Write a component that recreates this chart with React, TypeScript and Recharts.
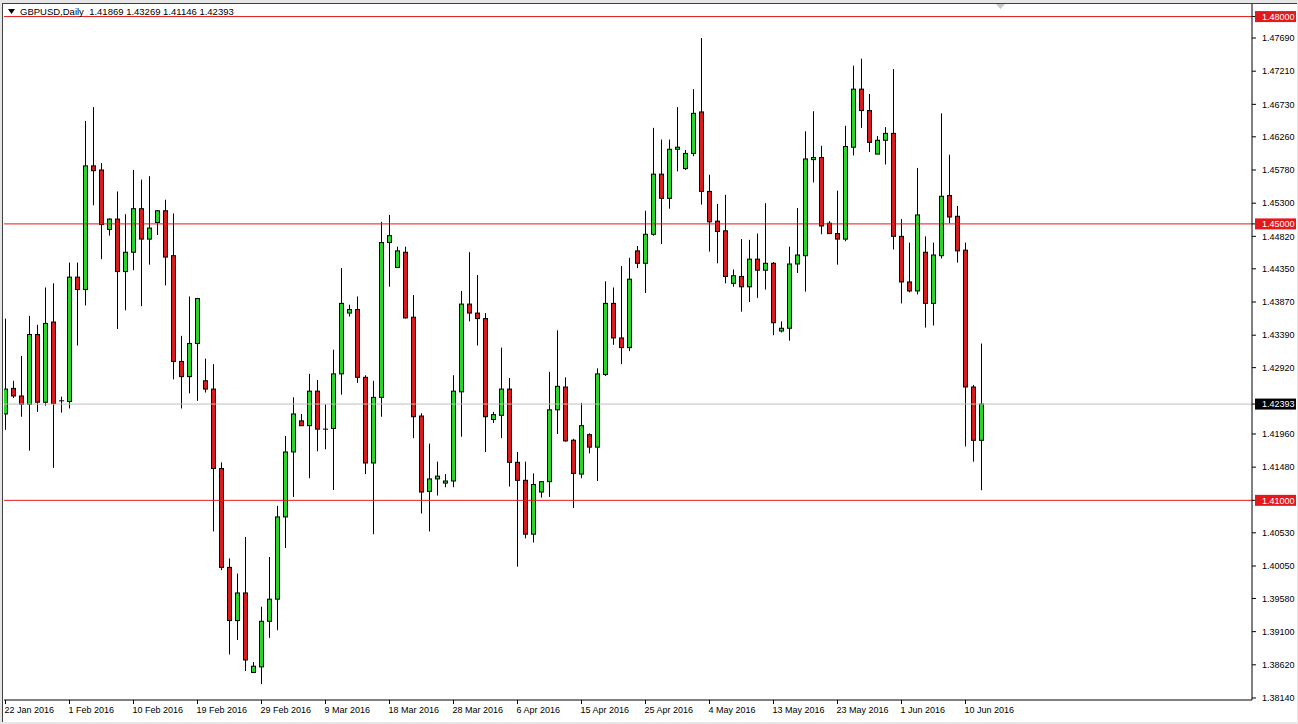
import { ComposedChart, Bar, XAxis, YAxis, ReferenceLine } from 'recharts'

// GBPUSD daily bars (broker feed includes short Sunday sessions)
const dates = [
  '22 Jan 2016', '24 Jan 2016', '25 Jan 2016', '26 Jan 2016', '27 Jan 2016', '28 Jan 2016', '29 Jan 2016',
  '31 Jan 2016', '1 Feb 2016', '2 Feb 2016', '3 Feb 2016', '4 Feb 2016', '5 Feb 2016',
  '7 Feb 2016', '8 Feb 2016', '9 Feb 2016', '10 Feb 2016', '11 Feb 2016', '12 Feb 2016',
  '14 Feb 2016', '15 Feb 2016', '16 Feb 2016', '17 Feb 2016', '18 Feb 2016', '19 Feb 2016',
  '21 Feb 2016', '22 Feb 2016', '23 Feb 2016', '24 Feb 2016', '25 Feb 2016', '26 Feb 2016',
  '28 Feb 2016', '29 Feb 2016', '1 Mar 2016', '2 Mar 2016', '3 Mar 2016', '4 Mar 2016',
  '6 Mar 2016', '7 Mar 2016', '8 Mar 2016', '9 Mar 2016', '10 Mar 2016', '11 Mar 2016',
  '13 Mar 2016', '14 Mar 2016', '15 Mar 2016', '16 Mar 2016', '17 Mar 2016', '18 Mar 2016',
  '20 Mar 2016', '21 Mar 2016', '22 Mar 2016', '23 Mar 2016', '24 Mar 2016', '25 Mar 2016',
  '27 Mar 2016', '28 Mar 2016', '29 Mar 2016', '30 Mar 2016', '31 Mar 2016', '1 Apr 2016',
  '3 Apr 2016', '4 Apr 2016', '5 Apr 2016', '6 Apr 2016', '7 Apr 2016', '8 Apr 2016',
  '10 Apr 2016', '11 Apr 2016', '12 Apr 2016', '13 Apr 2016', '14 Apr 2016', '15 Apr 2016',
  '17 Apr 2016', '18 Apr 2016', '19 Apr 2016', '20 Apr 2016', '21 Apr 2016', '22 Apr 2016',
  '24 Apr 2016', '25 Apr 2016', '26 Apr 2016', '27 Apr 2016', '28 Apr 2016', '29 Apr 2016',
  '1 May 2016', '2 May 2016', '3 May 2016', '4 May 2016', '5 May 2016', '6 May 2016',
  '8 May 2016', '9 May 2016', '10 May 2016', '11 May 2016', '12 May 2016', '13 May 2016',
  '15 May 2016', '16 May 2016', '17 May 2016', '18 May 2016', '19 May 2016', '20 May 2016',
  '22 May 2016', '23 May 2016', '24 May 2016', '25 May 2016', '26 May 2016', '27 May 2016',
  '29 May 2016', '30 May 2016', '31 May 2016', '1 Jun 2016', '2 Jun 2016', '3 Jun 2016',
  '5 Jun 2016', '6 Jun 2016', '7 Jun 2016', '8 Jun 2016', '9 Jun 2016', '10 Jun 2016',
  '12 Jun 2016', '13 Jun 2016',
]

const opens = [
  1.4225, 1.4262, 1.4251, 1.4239, 1.4340, 1.4242, 1.4358, 1.4244, 1.4243, 1.4423,
  1.4405, 1.4584, 1.4578, 1.4492, 1.4507, 1.4431, 1.4459, 1.4522, 1.4478, 1.4502,
  1.4519, 1.4454, 1.4301, 1.4279, 1.4327, 1.4273, 1.4261, 1.4146, 1.4003, 1.3926,
  1.3966, 1.3851, 1.3859, 1.3925, 1.3957, 1.4076, 1.4170, 1.4215, 1.4208, 1.4258,
  1.4203, 1.4204, 1.4283, 1.4371, 1.4376, 1.4278, 1.4154, 1.4249, 1.4473, 1.4437,
  1.4459, 1.4365, 1.4222, 1.4113, 1.4131, 1.4125, 1.4128, 1.4257, 1.4384, 1.4371,
  1.4363, 1.4217, 1.4223, 1.4261, 1.4155, 1.4129, 1.4051, 1.4112, 1.4127, 1.4231,
  1.4264, 1.4187, 1.4138, 1.4195, 1.4177, 1.4282, 1.4385, 1.4335, 1.4321, 1.4461,
  1.4443, 1.4485, 1.4572, 1.4537, 1.4608, 1.4580, 1.4602, 1.4662, 1.4547, 1.4504,
  1.4490, 1.4414, 1.4424, 1.4409, 1.4449, 1.4433, 1.4443, 1.4345, 1.4349, 1.4442,
  1.4454, 1.4593, 1.4596, 1.4501, 1.4486, 1.4478, 1.4611, 1.4695, 1.4664, 1.4601,
  1.4621, 1.4631, 1.4482, 1.4416, 1.4403, 1.4459, 1.4385, 1.4454, 1.4541, 1.4511,
  1.4462, 1.4264, 1.41869,
]

const highs = [
  1.4363, 1.4273, 1.4309, 1.4367, 1.4354, 1.4408, 1.4414, 1.4250, 1.4444, 1.4444,
  1.4649, 1.4669, 1.4588, 1.4508, 1.4547, 1.4514, 1.4578, 1.4564, 1.4569, 1.4520,
  1.4535, 1.4515, 1.4338, 1.4395, 1.4393, 1.4305, 1.4297, 1.4155, 1.4016, 1.3994,
  1.4047, 1.3866, 1.3946, 1.4018, 1.4092, 1.4193, 1.4249, 1.4225, 1.4283, 1.4274,
  1.4239, 1.4318, 1.4436, 1.4383, 1.4395, 1.4281, 1.4273, 1.4503, 1.4513, 1.4467,
  1.4467, 1.4397, 1.4226, 1.4182, 1.4156, 1.4138, 1.4281, 1.4403, 1.4459, 1.4426,
  1.4371, 1.4228, 1.4321, 1.4277, 1.4170, 1.4156, 1.4139, 1.4127, 1.4286, 1.4346,
  1.4278, 1.4189, 1.4241, 1.4197, 1.4291, 1.4417, 1.4408, 1.4439, 1.4451, 1.4468,
  1.4519, 1.4639, 1.4622, 1.4622, 1.4669, 1.4607, 1.4695, 1.4769, 1.4571, 1.4529,
  1.4542, 1.4434, 1.4478, 1.4477, 1.4486, 1.4530, 1.4445, 1.4359, 1.4467, 1.4523,
  1.4634, 1.4663, 1.4613, 1.4504, 1.4548, 1.4642, 1.4729, 1.4739, 1.4688, 1.4627,
  1.4640, 1.4724, 1.4507, 1.4473, 1.4581, 1.4482, 1.4473, 1.4660, 1.4600, 1.4526,
  1.4473, 1.4267, 1.43269,
]

const lows = [
  1.4202, 1.4248, 1.4221, 1.4172, 1.4228, 1.4237, 1.4147, 1.4227, 1.4233, 1.4324,
  1.4382, 1.4527, 1.4449, 1.4483, 1.4348, 1.4375, 1.4433, 1.4381, 1.4441, 1.4484,
  1.4411, 1.4275, 1.4233, 1.4255, 1.4244, 1.4256, 1.4055, 1.3999, 1.3877, 1.3898,
  1.3853, 1.3850, 1.3834, 1.3901, 1.3912, 1.4031, 1.4105, 1.4208, 1.4132, 1.4171,
  1.4174, 1.4115, 1.4253, 1.4366, 1.4270, 1.4138, 1.4051, 1.4221, 1.4409, 1.4436,
  1.4363, 1.4190, 1.4081, 1.4055, 1.4107, 1.4119, 1.4119, 1.4192, 1.4359, 1.4324,
  1.4170, 1.4212, 1.4190, 1.4120, 1.4004, 1.4045, 1.4039, 1.4104, 1.4105, 1.4196,
  1.4185, 1.4089, 1.4132, 1.4168, 1.4128, 1.4280, 1.4325, 1.4297, 1.4316, 1.4436,
  1.4400, 1.4483, 1.4471, 1.4522, 1.4576, 1.4578, 1.4598, 1.4528, 1.4460, 1.4443,
  1.4414, 1.4409, 1.4373, 1.4387, 1.4393, 1.4405, 1.4339, 1.4343, 1.4331, 1.4429,
  1.4402, 1.4560, 1.4485, 1.4486, 1.4441, 1.4475, 1.4599, 1.4639, 1.4604, 1.4601,
  1.4586, 1.4463, 1.4385, 1.4401, 1.4398, 1.4350, 1.4353, 1.4450, 1.4501, 1.4444,
  1.4178, 1.4156, 1.41146,
]

const closes = [
  1.4261, 1.4251, 1.4239, 1.4340, 1.4242, 1.4356, 1.4240, 1.4244, 1.4423, 1.4405,
  1.4584, 1.4577, 1.4499, 1.4507, 1.4431, 1.4459, 1.4522, 1.4478, 1.4494, 1.4519,
  1.4452, 1.4301, 1.4279, 1.4327, 1.4392, 1.4261, 1.4146, 1.4003, 1.3926, 1.3966,
  1.3869, 1.3860, 1.3925, 1.3957, 1.4076, 1.4170, 1.4225, 1.4208, 1.4258, 1.4203,
  1.4203, 1.4283, 1.4385, 1.4376, 1.4278, 1.4154, 1.4249, 1.4473, 1.4483, 1.4461,
  1.4364, 1.4221, 1.4112, 1.4131, 1.4135, 1.4128, 1.4258, 1.4384, 1.4371, 1.4363,
  1.4221, 1.4224, 1.4261, 1.4155, 1.4129, 1.4051, 1.4123, 1.4127, 1.4231, 1.4265,
  1.4186, 1.4139, 1.4208, 1.4177, 1.4283, 1.4385, 1.4335, 1.4321, 1.4420, 1.4443,
  1.4485, 1.4572, 1.4537, 1.4608, 1.4611, 1.4602, 1.4660, 1.4547, 1.4503, 1.4489,
  1.4424, 1.4425, 1.4409, 1.4449, 1.4433, 1.4443, 1.4357, 1.4349, 1.4442, 1.4455,
  1.4594, 1.4596, 1.4497, 1.4486, 1.4478, 1.4612, 1.4695, 1.4664, 1.4618, 1.4621,
  1.4631, 1.4482, 1.4416, 1.4403, 1.4513, 1.4385, 1.4455, 1.4540, 1.4510, 1.4461,
  1.4264, 1.41869, 1.42393,
]

const priceTicks = [
  1.4769, 1.4721, 1.4673, 1.4626, 1.4578, 1.453, 1.4482, 1.4435, 1.4387, 1.4339,
  1.4292, 1.4196, 1.4148, 1.4053, 1.4005, 1.3958, 1.391, 1.3862, 1.3814,
]
const levels = [1.48, 1.45, 1.41]
const lastPrice = 1.42393
const dateTicks = [0, 8, 16, 24, 32, 40, 48, 56, 64, 72, 80, 88, 96, 104, 112, 120]

const GREEN = '#2bd62b'
const RED = '#d81c1c'
const LEVEL = '#e3191b'
const FONT = "'Liberation Sans', Arial, sans-serif"

const data = dates.map((d, i) => ({
  i,
  date: d,
  o: opens[i],
  h: highs[i],
  l: lows[i],
  c: closes[i],
  range: [lows[i], highs[i]],
}))

function Candle(props: any) {
  const { x, y, width, height, payload } = props
  if (!payload || height == null) return null
  const { o, h, l, c } = payload
  const toY = (v: number) => y + ((h - v) / (h - l)) * height
  const cx = Math.floor(x + width / 2 + 0.01) + 0.5
  const top = toY(Math.max(o, c))
  const bot = toY(Math.min(o, c))
  return (
    <g>
      <line x1={cx} x2={cx} y1={y} y2={y + height} stroke="#000" strokeWidth={1} />
      {bot - top < 1.2 ? (
        <line x1={cx - 2.5} x2={cx + 2.5} y1={top} y2={top} stroke="#000" strokeWidth={1} />
      ) : (
        <rect x={cx - 2} y={top} width={4} height={bot - top} fill={c >= o ? GREEN : RED} stroke="#000" strokeWidth={1} />
      )}
    </g>
  )
}

function DateTick({ x, y, payload }: any) {
  return (
    <text x={x - 1} y={y} dy="0.75em" fontSize={9} fontFamily={FONT} fill="#000" textAnchor="start">
      {dates[payload.value]}
    </text>
  )
}

function PriceTick({ x, y, payload }: any) {
  const v = payload.value as number
  const isLevel = levels.includes(v)
  const isLast = v === lastPrice
  if (isLevel || isLast) {
    return (
      <g>
        <rect x={x - 7} y={y - 5.5} width={41} height={11} fill={isLast ? '#000' : LEVEL} />
        <text x={x} y={y} dy="0.36em" fontSize={9} fontFamily={FONT} fill="#fff">{v.toFixed(5)}</text>
      </g>
    )
  }
  return (
    <text x={x} y={y} dy="0.36em" fontSize={9} fontFamily={FONT} fill="#000">{v.toFixed(5)}</text>
  )
}

export default function App() {
  return (
    <div style={{ position: 'absolute', left: 0, top: 0, width: 1298, height: 724, background: '#e6e6e6', overflow: 'hidden' }}>
      <div
        style={{
          position: 'absolute', left: 2, top: 3, width: 1295, height: 719, background: '#fff',
          borderLeft: '1px solid #404040', borderTop: '1px solid #404040', boxSizing: 'border-box',
        }}
      />
      <div style={{ position: 'absolute', left: 0, top: 0 }}>
        <ComposedChart width={1298} height={724} data={data} margin={{ top: 4, left: 4, right: 0, bottom: 0 }}>
          {levels.map(v => (
            <ReferenceLine key={v} y={v} stroke={LEVEL} strokeWidth={1} />
          ))}
          <ReferenceLine y={lastPrice} stroke="#c0c0c0" strokeWidth={1} />
          <XAxis
            dataKey="i"
            type="number"
            domain={[-0.1875, 155.8125]}
            allowDataOverflow
            ticks={dateTicks}
            interval={0}
            height={24}
            tickSize={4}
            tickMargin={2}
            axisLine={{ stroke: '#000' }}
            tickLine={{ stroke: '#000' }}
            tick={<DateTick />}
          />
          <YAxis
            orientation="right"
            width={46}
            type="number"
            domain={[1.38111, 1.48182]}
            allowDataOverflow
            ticks={[...priceTicks, ...levels, lastPrice]}
            interval={0}
            tickSize={4}
            tickMargin={6}
            axisLine={{ stroke: '#000' }}
            tickLine={{ stroke: '#000' }}
            tick={<PriceTick />}
          />
          <Bar dataKey="range" barSize={5} shape={<Candle />} isAnimationActive={false} />
        </ComposedChart>
      </div>
      <svg style={{ position: 'absolute', left: 8, top: 9 }} width={8} height={6}>
        <polygon points="0,0 7,0 3.5,5" fill="#000" />
      </svg>
      <div
        style={{
          position: 'absolute', left: 20, top: 6, fontFamily: FONT, fontSize: 9.5,
          color: '#000', whiteSpace: 'pre', lineHeight: '12px',
        }}
      >
        {'GBPUSD,Daily  1.41869 1.43269 1.41146 1.42393'}
      </div>
      <svg style={{ position: 'absolute', left: 996, top: 4 }} width={10} height={6}>
        <polygon points="0,0 9,0 4.5,5" fill="#c8c8c8" />
      </svg>
    </div>
  )
}
